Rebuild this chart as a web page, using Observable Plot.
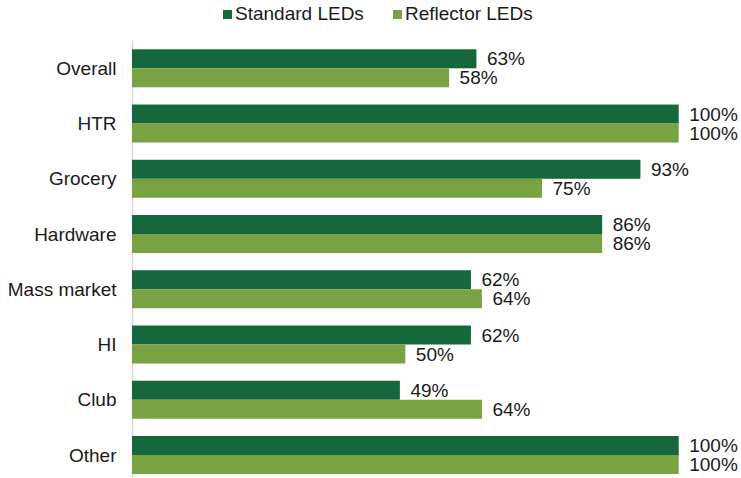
<!DOCTYPE html>
<html>
<head>
<meta charset="utf-8">
<script src="https://cdn.jsdelivr.net/npm/d3@7"></script>
<script src="https://cdn.jsdelivr.net/npm/@observablehq/plot@0.6"></script>
<style>
  html, body { margin: 0; padding: 0; background: #fff; }
  body { width: 741px; height: 478px; overflow: hidden; font-family: "Liberation Sans", Arial, sans-serif; }
  #legend { position: relative; height: 40px; font-size: 19px; color: #1a1a1a; }
  .item { position: absolute; top: 3px; display: flex; align-items: center; white-space: nowrap; }
  .sw { width: 9px; height: 9px; margin-right: 3px; }
</style>
</head>
<body>
<div id="legend"></div>
<div id="chart"></div>
<script>
const categories = ["Overall", "HTR", "Grocery", "Hardware", "Mass market", "HI", "Club", "Other"];
const standardLEDs = [63, 100, 93, 86, 62, 62, 49, 100];
const reflectorLEDs = [58, 100, 75, 86, 64, 50, 64, 100];
const seriesNames = ["Standard LEDs", "Reflector LEDs"];
const seriesColors = ["#14683c", "#79a342"];

const rows = categories.flatMap((c, i) => [
  {category: c, series: seriesNames[0], value: standardLEDs[i]},
  {category: c, series: seriesNames[1], value: reflectorLEDs[i]}
]);

// legend
const legend = document.getElementById("legend");
const legendLefts = [223, 393];
seriesNames.forEach((s, i) => {
  const item = document.createElement("div");
  item.className = "item";
  item.style.left = legendLefts[i] + "px";
  const sw = document.createElement("span");
  sw.className = "sw";
  sw.style.background = seriesColors[i];
  const t = document.createElement("span");
  t.textContent = s;
  item.append(sw, t);
  legend.append(item);
});

const gapHalf = 8.7;
const chart = Plot.plot({
  width: 741,
  height: 438,
  marginLeft: 132,
  marginRight: 62.3,
  marginTop: 0,
  marginBottom: 0,
  style: {fontFamily: "'Liberation Sans', Arial, sans-serif", fontSize: "19px", color: "#1a1a1a", background: "#fff"},
  x: {domain: [0, 100], axis: null},
  y: {domain: seriesNames, axis: null, padding: 0, round: false},
  fy: {domain: categories, range: [0.68, 442.6], paddingInner: 0.312, paddingOuter: 0.156, round: false,
       label: null, axis: "left", tickSize: 0, tickPadding: 16},
  color: {domain: seriesNames, range: seriesColors},
  marks: [
    Plot.ruleX([0], {stroke: "#d9d9d9", strokeWidth: 1.5, insetTop: -gapHalf, insetBottom: -gapHalf}),
    Plot.barX(rows, {fy: "category", y: "series", x: "value", fill: "series"}),
    Plot.text(rows, {fy: "category", y: "series", x: "value", text: d => d.value + "%",
      textAnchor: "start", dx: 10, fill: "#1a1a1a", fontSize: 19})
  ]
});
document.getElementById("chart").append(chart);
</script>
</body>
</html>
